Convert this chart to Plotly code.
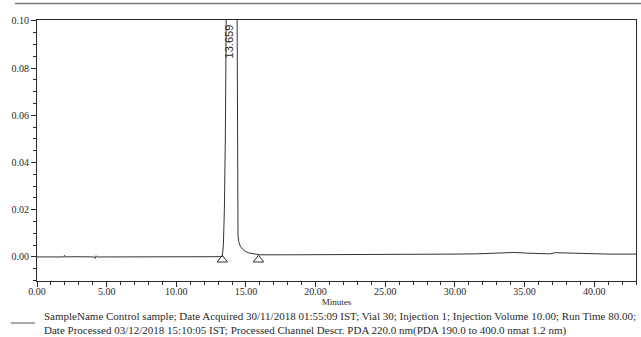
import plotly.graph_objects as go

# Chromatogram trace (minutes, AU)
time_min = [0.0, 1.0, 1.9, 1.97, 2.02, 2.08, 2.2, 2.6, 3.2, 3.9, 4.1, 4.17, 4.24, 4.32, 4.42, 5.0, 7.0, 9.0,
            11.0, 12.5, 13.3, 13.38, 13.45, 13.52, 13.58, 13.64, 13.70, 14.30, 14.36, 14.40, 14.43,
            14.50, 14.60, 14.75, 14.95, 15.2, 15.6, 16.0, 18.0, 20.0, 23.0, 26.0, 28.0, 30.0, 31.5,
            32.5, 33.5, 34.3, 35.2, 36.0, 36.8, 37.2, 37.8, 38.6, 39.5, 41.0, 43.0]
absorbance = [0.0000, 0.0000, 0.0000, 0.0007, -0.0002, 0.0002, 0.0000, 0.0001, 0.0000, 0.0000, 0.0000, -0.0006,
              0.0005, -0.0001, 0.0000, 0.0000, 0.0000, 0.0000,
              0.0000, 0.0000, 0.0001, 0.0050, 0.0200, 0.0500, 0.0850, 0.1300, 0.2000, 0.2000, 0.1100, 0.0400,
              0.0090, 0.0060, 0.0045, 0.0033, 0.0024, 0.0017, 0.0012, 0.0009, 0.0009, 0.0009, 0.0010,
              0.0010, 0.0011, 0.0012, 0.0013, 0.0015, 0.0020, 0.0019, 0.0016, 0.0014, 0.0013, 0.0018,
              0.0017, 0.0014, 0.0013, 0.0012, 0.0012]

peak_rt = 13.659
peak_label = "13.659"
marker_times = [13.3, 15.9]
marker_levels = [-0.0012, -0.0012]

x_ticks = [0, 5, 10, 15, 20, 25, 30, 35, 40]
y_ticks = [0.00, 0.02, 0.04, 0.06, 0.08, 0.10]

footer_line1 = ("SampleName Control sample; Date Acquired 30/11/2018 01:55:09 IST; Vial 30; "
                "Injection 1; Injection Volume 10.00; Run Time 80.00;")
footer_line2 = ("Date Processed 03/12/2018 15:10:05 IST; Processed Channel Descr. PDA 220.0 nm"
                "(PDA 190.0 to 400.0 nmat 1.2 nm)")

serif = "Liberation Serif, Times New Roman, serif"
ink = "#2a2a2a"

W, H = 641, 337
L, R, T, B = 37, 5, 20, 56


def px(xp):
    return (xp - L) / (W - L - R)


def py(yp):
    return 1 - (yp - T) / (H - T - B)


fig = go.Figure()
fig.add_trace(go.Scatter(x=time_min, y=absorbance, mode="lines",
                         line=dict(color="#333333", width=1), showlegend=False,
                         hoverinfo="skip"))
fig.add_trace(go.Scatter(x=marker_times, y=marker_levels, mode="markers",
                         marker=dict(symbol="triangle-up-open", size=9,
                                     color="#333333", line=dict(width=1)),
                         showlegend=False, hoverinfo="skip"))

fig.add_annotation(x=peak_rt, y=0.0995, xref="x", yref="y", text=peak_label,
                   textangle=-90, showarrow=False, xanchor="center", yanchor="top",
                   xshift=2,
                   font=dict(family="Liberation Sans, Arial, sans-serif", size=11, color=ink))

# footer text
fig.add_annotation(x=px(42), y=py(316), xref="paper", yref="paper", text=footer_line1,
                   showarrow=False, xanchor="left", yanchor="middle",
                   font=dict(family=serif, size=11, color=ink))
fig.add_annotation(x=px(42), y=py(330), xref="paper", yref="paper", text=footer_line2,
                   showarrow=False, xanchor="left", yanchor="middle",
                   font=dict(family=serif, size=11, color=ink))

fig.add_shape(type="line", xref="paper", yref="paper",
              x0=px(15), x1=px(641), y0=py(3.5), y1=py(3.5),
              line=dict(color="#777777", width=1.5))
fig.add_shape(type="line", xref="paper", yref="paper",
              x0=px(11), x1=px(35), y0=py(323), y1=py(323),
              line=dict(color="#555555", width=1))

fig.update_layout(
    width=W, height=H,
    margin=dict(l=L, r=R, t=T, b=B),
    paper_bgcolor="white", plot_bgcolor="white",
    font=dict(family=serif, size=10, color=ink),
    xaxis=dict(range=[0, 43], tickvals=x_ticks, tickformat=".2f",
               showgrid=False, zeroline=False, showline=True, linecolor=ink, linewidth=1,
               mirror=True, ticks="outside", ticklen=5, tickcolor=ink,
               ticklabelstandoff=-4,
               minor=dict(dtick=1, ticks="outside", ticklen=3, tickcolor=ink, showgrid=False),
               title=dict(text="Minutes", font=dict(family=serif, size=9), standoff=0)),
    yaxis=dict(range=[-0.0102, 0.1004], tickvals=y_ticks, tickformat=".2f",
               showgrid=False, zeroline=False, showline=True, linecolor=ink, linewidth=1,
               mirror=True, ticks="outside", ticklen=5, tickcolor=ink,
               minor=dict(dtick=0.005, ticks="outside", ticklen=3, tickcolor=ink, showgrid=False)),
)

fig.write_html("out.html")
